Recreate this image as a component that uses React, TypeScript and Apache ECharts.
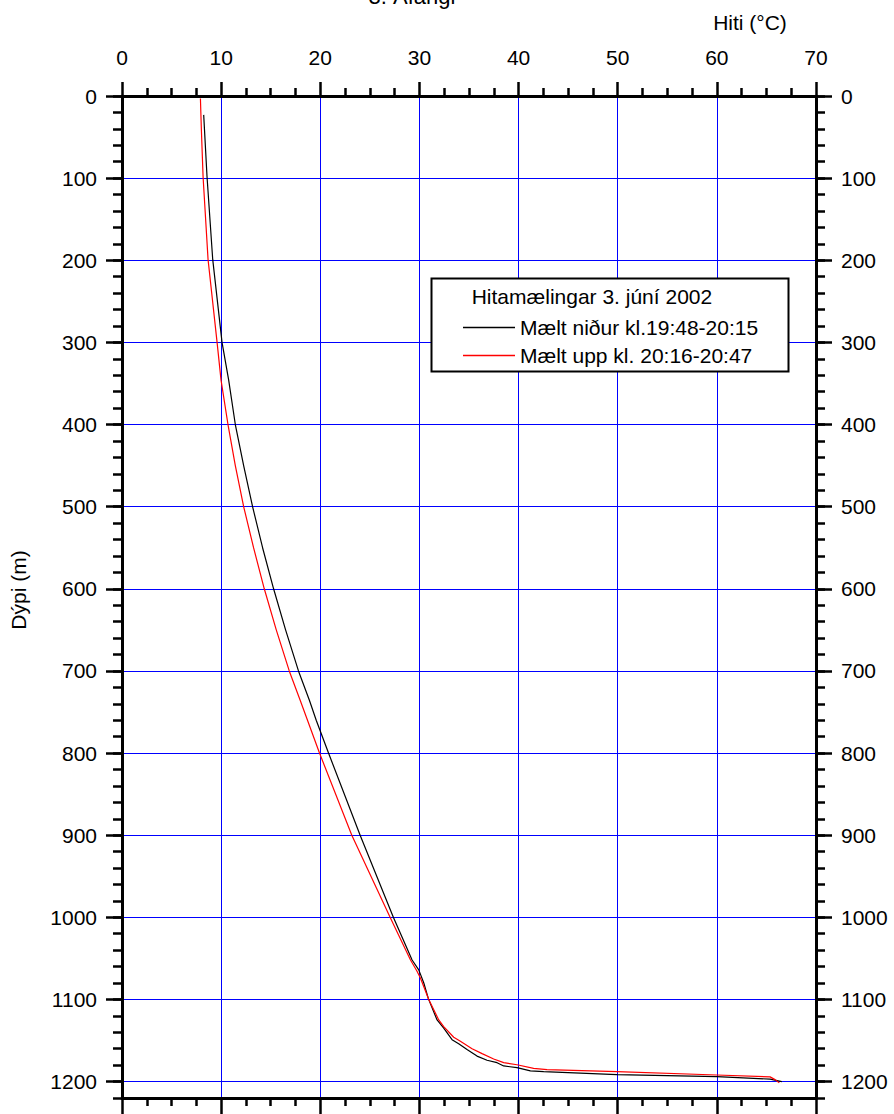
import React, { useEffect, useRef } from "react";
import * as echarts from "echarts";

// Mælt niður kl.19:48-20:15 (black)
const depthNidur = [23, 99, 199, 300, 346, 400, 450, 500, 550, 600, 650, 700, 736, 760, 800, 900, 1000, 1052, 1064, 1068, 1080, 1099, 1125, 1135, 1149, 1154, 1161, 1169, 1174, 1177, 1181, 1183, 1187, 1188, 1191.5, 1194, 1197, 1200];
const tempNidur = [8.24, 8.58, 9.15, 10.09, 10.76, 11.43, 12.27, 13.17, 14.18, 15.29, 16.5, 17.8, 18.91, 19.59, 20.83, 24.02, 27.37, 29.26, 29.93, 30.06, 30.44, 30.9, 31.78, 32.45, 33.29, 33.96, 34.8, 35.81, 36.82, 37.83, 38.5, 39.84, 41.19, 42.53, 49.92, 60, 65.37, 66.55];

// Mælt upp kl. 20:16-20:47 (red)
const depthUpp = [3, 39, 99, 199, 300, 346, 400, 450, 500, 550, 600, 650, 700, 736, 760, 800, 900, 1000, 1052, 1065, 1074, 1100, 1125, 1133, 1146, 1151, 1160, 1166, 1172.5, 1177, 1179.5, 1184, 1185.5, 1188, 1192, 1194.3, 1197.6, 1201.6];
const tempUpp = [7.91, 8.0, 8.18, 8.68, 9.59, 9.99, 10.69, 11.43, 12.27, 13.27, 14.35, 15.56, 16.87, 17.98, 18.71, 19.92, 23.18, 27.04, 29.1, 29.73, 30.1, 30.94, 31.95, 32.45, 33.46, 34.13, 35.31, 36.32, 37.49, 38.5, 39.84, 41.52, 42.87, 49.92, 60, 65.37, 65.87, 66.3];

const depthLabels = [0, 100, 200, 300, 400, 500, 600, 700, 800, 900, 1000, 1100, 1200];
const seriesNames = ["Mælt niður kl.19:48-20:15", "Mælt upp kl. 20:16-20:47"];
const legendTitle = "Hitamælingar 3. júní 2002";
const chartTitle = "3. Áfangi";
const xName = "Hiti (°C)";
const yName = "Dýpi (m)";

const FONT = "'Liberation Sans', Arial, Helvetica, sans-serif";
const FS = 21;

export default function App() {
  const ref = useRef<HTMLDivElement>(null);
  useEffect(() => {
    if (!ref.current) return;
    const chart = echarts.init(ref.current, null, { renderer: "svg" });
    const black = depthNidur.map((d, i) => [tempNidur[i], d]);
    const red = depthUpp.map((d, i) => [tempUpp[i], d]);
    const axisLineStyle = { color: "#000", width: 3 };
    const tickStyle = { color: "#000", width: 2.5 };
    const fmt = (v: number) => String(v);
    const labelStyle = { color: "#000", fontSize: FS, fontFamily: FONT, formatter: fmt };
    const grid = { left: 122, top: 96, width: 694, height: 1002 };
    const xBase = { type: "value", min: 0, max: 70, interval: 10, gridIndex: 0 };
    const yBase = { type: "value", min: 0, max: 1220, inverse: true, gridIndex: 0 };
    const blueGrid = () => ({ show: true, lineStyle: { color: "#0000ff", width: 1 } });
    const option: any = {
      animation: false,
      backgroundColor: "#fff",
      grid,
      xAxis: [
        {
          ...xBase,
          position: "top",
          axisLine: { show: true, onZero: false, lineStyle: axisLineStyle },
          axisTick: { show: true, inside: false, length: 14, lineStyle: tickStyle },
          minorTick: { show: true, splitNumber: 4, length: 8, lineStyle: tickStyle },
          axisLabel: { ...labelStyle, margin: 28 },
          splitLine: blueGrid(),
        },
        {
          ...xBase,
          position: "bottom",
          axisLine: { show: true, onZero: false, lineStyle: axisLineStyle },
          axisTick: { show: true, inside: false, length: 16, lineStyle: tickStyle },
          minorTick: { show: true, splitNumber: 4, length: 8, lineStyle: tickStyle },
          axisLabel: { show: false },
          splitLine: { show: false },
        },
      ],
      yAxis: [
        {
          ...yBase,
          position: "left",
          interval: 100,
          axisLine: { show: false, onZero: false },
          axisTick: { show: true, inside: false, length: 16, lineStyle: tickStyle, customValues: depthLabels },
          axisLabel: { ...labelStyle, margin: 25, customValues: depthLabels },
          splitLine: blueGrid(),
        },
        {
          ...yBase,
          position: "left",
          interval: 20,
          axisLine: { show: true, onZero: false, lineStyle: axisLineStyle },
          axisTick: { show: true, inside: false, length: 9, lineStyle: tickStyle },
          axisLabel: { show: false },
          splitLine: { show: false },
        },
        {
          ...yBase,
          position: "right",
          interval: 100,
          axisLine: { show: false, onZero: false },
          axisTick: { show: true, inside: false, length: 16, lineStyle: tickStyle, customValues: depthLabels },
          axisLabel: { ...labelStyle, margin: 25, customValues: depthLabels },
          splitLine: { show: false },
        },
        {
          ...yBase,
          position: "right",
          interval: 20,
          axisLine: { show: true, onZero: false, lineStyle: axisLineStyle },
          axisTick: { show: true, inside: false, length: 9, lineStyle: tickStyle },
          axisLabel: { show: false },
          splitLine: { show: false },
        },
      ],
      legend: {
        z: 20,
        orient: "vertical",
        left: 458,
        top: 312,
        itemWidth: 52,
        itemHeight: 1.3,
        itemGap: 7,
        icon: "rect",
        textStyle: { color: "#000", fontSize: FS, fontFamily: FONT },
        data: seriesNames.map((n) => ({ name: n, icon: "rect" })),
      },
      graphic: [
        {
          type: "rect",
          z: 10,
          shape: { x: 431.5, y: 278.5, width: 357, height: 93 },
          style: { fill: "#fff", stroke: "#000", lineWidth: 2 },
        },
        {
          type: "text",
          z: 11,
          x: 471.7,
          y: 296.7,
          style: { text: legendTitle, fill: "#000", font: `${FS}px ${FONT}`, verticalAlign: "middle", align: "left" },
        },
        {
          type: "text",
          z: 11,
          x: 412,
          y: -4,
          style: { text: chartTitle, fill: "#000", font: `22px ${FONT}`, verticalAlign: "middle", align: "center" },
        },
        {
          type: "text",
          z: 11,
          x: 750,
          y: 22,
          style: { text: xName, fill: "#000", font: `${FS}px ${FONT}`, verticalAlign: "middle", align: "center" },
        },
        {
          type: "text",
          z: 11,
          x: 18,
          y: 590,
          rotation: Math.PI / 2,
          style: { text: yName, fill: "#000", font: `${FS}px ${FONT}`, verticalAlign: "middle", align: "center" },
        },
      ],
      series: [
        {
          name: seriesNames[0],
          type: "line",
          xAxisIndex: 0,
          yAxisIndex: 0,
          data: black,
          symbol: "none",
          lineStyle: { color: "#000", width: 1.2 },
          itemStyle: { color: "#000" },
        },
        {
          name: seriesNames[1],
          type: "line",
          xAxisIndex: 0,
          yAxisIndex: 0,
          data: red,
          symbol: "none",
          lineStyle: { color: "#ff0000", width: 1.2 },
          itemStyle: { color: "#ff0000" },
        },
      ],
    };
    chart.setOption(option);
    return () => chart.dispose();
  }, []);
  return (
    <div
      ref={ref}
      style={{ position: "absolute", left: 0, top: 0, width: 894, height: 1114 }}
    />
  );
}
